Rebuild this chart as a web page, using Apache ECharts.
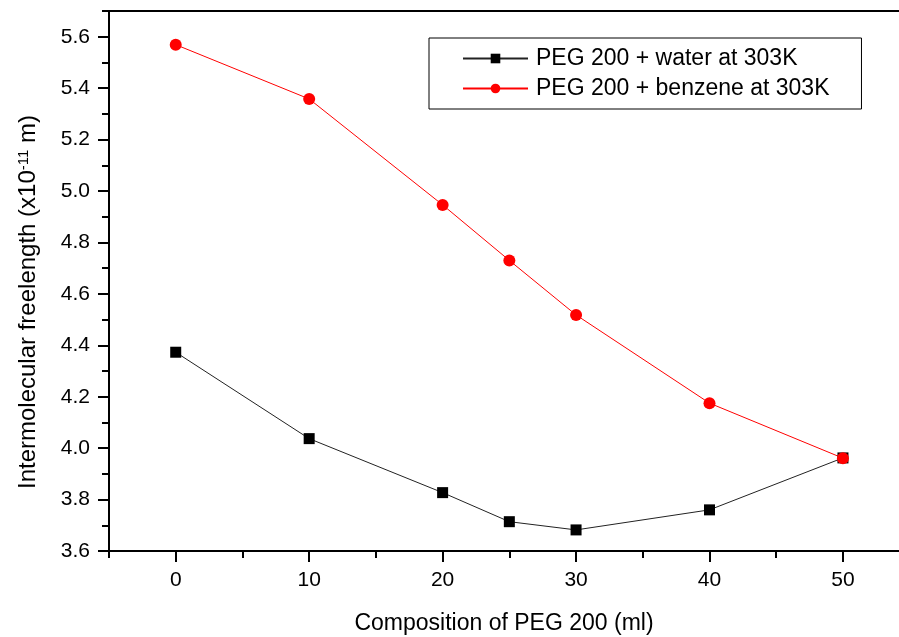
<!DOCTYPE html>
<html>
<head>
<meta charset="utf-8">
<script src="https://cdn.jsdelivr.net/npm/echarts@6/dist/echarts.min.js"></script>
<style>
	html, body { margin: 0; padding: 0; background: #fff; }
	#chart1 { width: 899px; height: 637px; }
</style>
</head>
<body>
<div id="chart1"></div>
<script>
var composition = [0, 10, 20, 25, 30, 40, 50];
var waterValues = [4.373, 4.037, 3.827, 3.714, 3.682, 3.76, 3.962];
var benzeneValues = [5.569, 5.358, 4.946, 4.73, 4.518, 4.175, 3.961];
var xMajorTicks = [0, 10, 20, 30, 40, 50];
var xMinorTicks = [-5, 5, 15, 25, 35, 45];
var yMajorTicks = [3.6, 3.8, 4.0, 4.2, 4.4, 4.6, 4.8, 5.0, 5.2, 5.4, 5.6];
var yMinorTicks = [3.7, 3.9, 4.1, 4.3, 4.5, 4.7, 4.9, 5.1, 5.3, 5.5, 5.7];

function pairs(xs, ys){
	var out = [];
	for (var i = 0; i < xs.length; i++) {
		out.push([xs[i], ys[i]]);
	}
	return out;
}

getChart1();

function getChart1(){
	var chart = echarts.init(document.getElementById('chart1'));
	var font = 'Arial, "Liberation Sans", sans-serif';
	var lineStyle = { color: '#000', width: 2 };
	var xMin = -5, xMax = 54.2;
	var option = {
	    animation: false,
	    textStyle: { fontFamily: font },
	    grid: {
	        left: 109,
	        right: 0,
	        top: 11,
	        bottom: 86,
	        containLabel: false,
	        outerBoundsMode: 'none'
	    },
	    legend: {
	        orient: 'vertical',
	        left: 429,
	        top: 38,
	        padding: [9, 32, 9, 33],
	        itemGap: 7,
	        itemWidth: 65,
	        itemHeight: 12,
	        borderColor: '#000',
	        borderWidth: 1,
	        data: ['PEG 200 + water at 303K', 'PEG 200 + benzene at 303K'],
	        textStyle: {
	            color: '#000',
	            fontSize: 23,
	            fontFamily: font,
	            padding: [0, 0, 0, 3]
	        }
	    },
	    xAxis: [
	        {
	            type: 'value',
	            min: xMin,
	            max: xMax,
	            name: 'Composition of PEG 200 (ml)',
	            nameLocation: 'middle',
	            nameGap: 61,
	            nameTextStyle: { color: '#000', fontSize: 23, fontFamily: font },
	            axisLine: { show: true, onZero: false, lineStyle: lineStyle },
	            axisTick: { show: true, length: 11, lineStyle: lineStyle, customValues: xMajorTicks },
	            axisLabel: { color: '#000', fontSize: 21, margin: 19, customValues: xMajorTicks },
	            splitLine: { show: false }
	        },
	        {
	            type: 'value',
	            min: xMin,
	            max: xMax,
	            position: 'bottom',
	            offset: 0,
	            axisLine: { show: false, onZero: false },
	            axisTick: { show: true, length: 7, lineStyle: lineStyle, customValues: xMinorTicks },
	            axisLabel: { show: false },
	            splitLine: { show: false }
	        },
	        {
	            type: 'value',
	            min: xMin,
	            max: xMax,
	            position: 'top',
	            axisLine: { show: true, onZero: false, lineStyle: lineStyle },
	            axisTick: { show: false },
	            axisLabel: { show: false },
	            splitLine: { show: false }
	        }
	    ],
	    yAxis: [
	        {
	            type: 'value',
	            min: 3.6,
	            max: 5.7,
	            name: '{a|Intermolecular freelength (x10}{s|-11}{a| m)}',
	            nameLocation: 'middle',
	            nameGap: 68,
	            nameTextStyle: {
	                color: '#000',
	                padding: [0, 42, 0, 0],
	                rich: {
	                    a: { fontSize: 24, fontFamily: font, color: '#000' },
	                    s: { fontSize: 15, fontFamily: font, color: '#000', verticalAlign: 'top', padding: [0, 0, 10, 0] }
	                }
	            },
	            axisLine: { show: true, onZero: false, lineStyle: lineStyle },
	            axisTick: { show: true, length: 11, lineStyle: lineStyle, customValues: yMajorTicks },
	            axisLabel: {
	                color: '#000',
	                fontSize: 21,
	                margin: 19,
	                customValues: yMajorTicks,
	                formatter: function(v){ return v.toFixed(1); }
	            },
	            splitLine: { show: false }
	        },
	        {
	            type: 'value',
	            min: 3.6,
	            max: 5.7,
	            position: 'left',
	            offset: 0,
	            axisLine: { show: false, onZero: false },
	            axisTick: { show: true, length: 7, lineStyle: lineStyle, customValues: yMinorTicks },
	            axisLabel: { show: false },
	            splitLine: { show: false }
	        }
	    ],
	    series: [
	        {
	            name: 'PEG 200 + water at 303K',
	            type: 'line',
	            xAxisIndex: 0,
	            yAxisIndex: 0,
	            symbol: 'rect',
	            symbolSize: 11,
	            itemStyle: { color: '#000' },
	            lineStyle: { color: '#222', width: 1 },
	            data: pairs(composition, waterValues)
	        },
	        {
	            name: 'PEG 200 + benzene at 303K',
	            type: 'line',
	            xAxisIndex: 0,
	            yAxisIndex: 0,
	            symbol: 'circle',
	            symbolSize: 12,
	            itemStyle: { color: '#ff0000' },
	            lineStyle: { color: '#ff0000', width: 1 },
	            data: pairs(composition, benzeneValues)
	        }
	    ]
	};
	chart.setOption(option);
}
</script>
</body>
</html>
